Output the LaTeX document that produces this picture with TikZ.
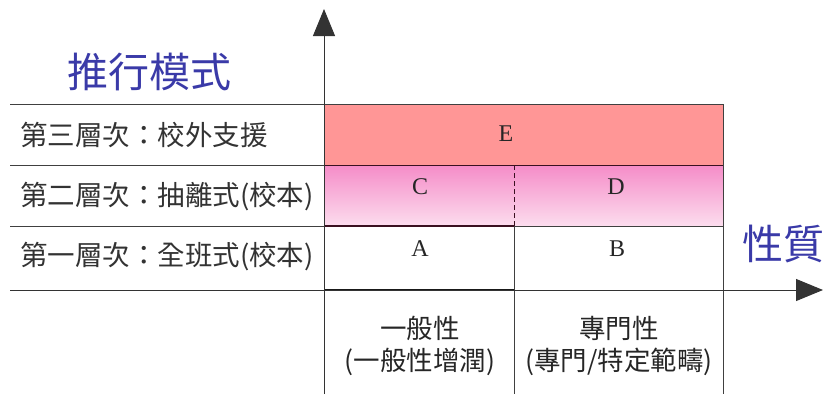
\documentclass[tikz,border=0pt]{standalone}
\usepackage{fontspec}
\setmainfont{Liberation Serif}
\newfontfamily\cjk{Noto Sans CJK TC}
\usetikzlibrary{arrows.meta}
\definecolor{salmonE}{HTML}{FF9696}
\definecolor{pinkTop}{HTML}{F58CC8}
\definecolor{pinkBot}{HTML}{FCDDEE}
\definecolor{titleblue}{HTML}{3A3AA8}
\definecolor{labelgrey}{HTML}{333333}
\definecolor{maroon}{HTML}{3A1020}
\tikzset{
  gridline/.style={draw=black!75, line width=0.9pt},
  rowlabel/.style={font=\cjk\fontsize{27.5}{30}\selectfont, text=labelgrey, anchor=west, inner sep=0pt},
  letter/.style={font=\fontsize{24}{26}\selectfont, text=black!85, inner sep=0pt},
  coltext/.style={font=\cjk\fontsize{26.5}{32}\selectfont, text=black!85, align=center, inner sep=0pt},
  axistitle/.style={font=\cjk\fontsize{41}{44}\selectfont, text=titleblue, inner sep=0pt},
  axis/.style={draw=black!80, line width=1pt, -{Triangle[length=27pt,width=22pt]}}
}
\begin{document}
\begin{tikzpicture}[x=1pt,y=-1pt]
\useasboundingbox (0,0) rectangle (827,394);
% fills
\fill[salmonE] (324,104) rectangle (723,165);
\shade[top color=pinkTop, bottom color=pinkBot] (324,165) rectangle (723,226);
% cell frames
\draw[gridline] (324,104) -- (723,104) -- (723,394);
\draw[draw=maroon, line width=1pt] (324,165) -- (723,165);
\draw[draw=maroon, line width=1pt, dash pattern=on 5pt off 3pt] (514,165) -- (514,226);
\draw[gridline] (514,226) -- (514,394);
\draw[gridline] (514,226) -- (723,226);
\draw[draw=maroon, line width=2pt] (324,226) -- (514,226);
\draw[draw=black!90, line width=2pt] (324,290) -- (514,290);
% left row lines
\draw[gridline] (10,104) -- (324,104);
\draw[gridline] (10,165) -- (324,165);
\draw[gridline] (10,226) -- (324,226);
% axes
\coordinate (ybot) at (324,394);
\coordinate (ytop) at (324,9);
\coordinate (xleft) at (10,290);
\coordinate (xright) at (823,290);
\draw[axis] (ybot) -- (ytop);
\draw[axis] (xleft) -- (xright);
% titles
\node[axistitle] (ttl) at (149,72) {推行模式};
\node[axistitle] (prop) at (783,244) {性質};
% row labels
\node[rowlabel] (r3) at (20,135) {第三層次：校外支援};
\node[rowlabel] (r2) at (20,197) {第二層次：抽離式(校本)};
\node[rowlabel] (r1) at (20,257) {第一層次：全班式(校本)};
% cell letters
\node[letter] (E) at (506,134) {E};
\node[letter] (C) at (420,187) {C};
\node[letter] (D) at (616,187) {D};
\node[letter] (A) at (420,249) {A};
\node[letter] (B) at (617,249) {B};
% column texts
\node[coltext] (c1) at (420,346) {一般性\\(一般性增潤)};
\node[coltext] (c2) at (619,346) {專門性\\(專門/特定範疇)};
\end{tikzpicture}
\end{document}
